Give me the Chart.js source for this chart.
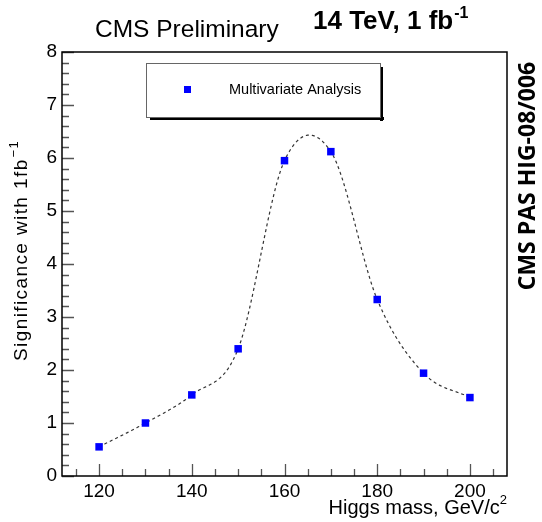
<!DOCTYPE html>
<html>
<head>
<meta charset="utf-8">
<script src="https://cdn.jsdelivr.net/npm/chart.js@4/dist/chart.umd.min.js"></script>
<style>
html,body{margin:0;padding:0;background:#fff;}
#wrap{width:542px;height:522px;position:relative;}
</style>
</head>
<body>
<div id="wrap"><canvas id="c" width="542" height="522"></canvas></div>
<script>
// ---- data ----
const masses = [120, 130, 140, 150, 160, 170, 180, 190, 200];
const significance = [0.55, 1.00, 1.53, 2.40, 5.95, 6.12, 3.33, 1.94, 1.48];
const xTickValues = [120, 140, 160, 180, 200];
const yTickValues = [0, 1, 2, 3, 4, 5, 6, 7, 8];
const seriesLabel = "Multivariate Analysis";
const titleLeft = "CMS Preliminary";
const titleRight = "14 TeV, 1 fb";
const titleRightSup = "-1";
const sideLabel = "CMS PAS HIG-08/006";
const xAxisTitle = "Higgs mass, GeV/c";
const xAxisTitleSup = "2";
const yAxisTitle = "Significance with 1fb";
const yAxisTitleSup = "\u22121";

const FONT = '"Liberation Sans", Arial, Helvetica, sans-serif';

// Catmull-Rom style Hermite curve through the data points
function smoothCurve(xs, ys) {
  const n = xs.length;
  const m = [];
  for (let i = 0; i < n; i++) {
    if (i === 0) m.push((ys[1] - ys[0]) / (xs[1] - xs[0]));
    else if (i === n - 1) m.push((ys[n - 1] - ys[n - 2]) / (xs[n - 1] - xs[n - 2]));
    else m.push((ys[i + 1] - ys[i - 1]) / (xs[i + 1] - xs[i - 1]));
  }
  return function (x) {
    let i = 0;
    while (i < n - 2 && x > xs[i + 1]) i++;
    const h = xs[i + 1] - xs[i];
    const t = (x - xs[i]) / h;
    const t2 = t * t, t3 = t2 * t;
    const h00 = 2 * t3 - 3 * t2 + 1, h10 = t3 - 2 * t2 + t;
    const h01 = -2 * t3 + 3 * t2, h11 = t3 - t2;
    return h00 * ys[i] + h10 * h * m[i] + h01 * ys[i + 1] + h11 * h * m[i + 1];
  };
}

const curvePlugin = {
  id: 'curve',
  beforeDatasetsDraw(chart) {
    const ctx = chart.ctx, xs = chart.scales.x, ys = chart.scales.y;
    const f = smoothCurve(masses, significance);
    ctx.save();
    ctx.beginPath();
    const x0 = masses[0], x1 = masses[masses.length - 1];
    for (let k = 0; k <= 400; k++) {
      const xv = x0 + (x1 - x0) * k / 400;
      const px = xs.getPixelForValue(xv), py = ys.getPixelForValue(f(xv));
      if (k === 0) ctx.moveTo(px, py); else ctx.lineTo(px, py);
    }
    ctx.setLineDash([3, 3]);
    ctx.lineWidth = 1.2;
    ctx.strokeStyle = '#333';
    ctx.stroke();
    ctx.restore();
  }
};

const framePlugin = {
  id: 'frame',
  afterDraw(chart) {
    const ctx = chart.ctx, a = chart.chartArea;
    const xs = chart.scales.x, ys = chart.scales.y;
    ctx.save();
    // ticks inside
    ctx.strokeStyle = '#555';
    ctx.lineWidth = 1.3;
    ctx.beginPath();
    for (let v = 115; v <= xs.max; v += 5) {
      const px = Math.round(xs.getPixelForValue(v)) + 0.5;
      const len = (v % 20 === 0) ? 12 : 7;
      ctx.moveTo(px, a.bottom);
      ctx.lineTo(px, a.bottom - len);
    }
    for (let k = 0; k <= 40; k++) {
      const v = k * 0.2;
      const py = Math.round(ys.getPixelForValue(v)) + 0.5;
      const len = (k % 5 === 0) ? 12 : 7;
      ctx.moveTo(a.left, py);
      ctx.lineTo(a.left + len, py);
    }
    ctx.stroke();
    // frame
    ctx.strokeStyle = '#000';
    ctx.lineWidth = 1.5;
    ctx.strokeRect(a.left, a.top, a.right - a.left, a.bottom - a.top);

    // legend box
    const lx = 146, ly = 63, lw = 234, lh = 54;
    ctx.fillStyle = '#000';
    ctx.fillRect(lx + 4, ly + lh, lw, 3);
    ctx.fillRect(lx + lw, ly + 4, 3, lh);
    ctx.fillStyle = '#fff';
    ctx.fillRect(lx, ly, lw, lh);
    ctx.strokeStyle = '#666';
    ctx.lineWidth = 1;
    ctx.strokeRect(lx + 0.5, ly + 0.5, lw, lh);
    const ds = chart.data.datasets[0];
    ctx.fillStyle = ds.backgroundColor;
    ctx.fillRect(184, 86, 7, 7);
    ctx.fillStyle = '#000';
    ctx.font = '14.5px ' + FONT;
    ctx.textBaseline = 'middle';
    ctx.textAlign = 'left';
    ctx.fillText(ds.label, 229, 90);

    // titles
    ctx.font = '24.5px ' + FONT;
    ctx.textBaseline = 'alphabetic';
    ctx.fillText(titleLeft, 95, 37);
    ctx.font = 'bold 26px ' + FONT;
    ctx.fillText(titleRight, 313, 29);
    const w1 = ctx.measureText(titleRight).width;
    ctx.font = 'bold 16px ' + FONT;
    ctx.fillText(titleRightSup, 313 + w1 + 1, 18);

    // x axis title
    ctx.textAlign = 'right';
    ctx.font = '13px ' + FONT;
    const ws = ctx.measureText(xAxisTitleSup).width;
    ctx.fillText(xAxisTitleSup, 507, 504);
    ctx.font = '20px ' + FONT;
    ctx.fillText(xAxisTitle, 507 - ws, 514);

    // y axis title
    ctx.save();
    ctx.translate(27, 361);
    ctx.rotate(-Math.PI / 2);
    ctx.textAlign = 'left';
    ctx.font = '19px ' + FONT;
    if ('letterSpacing' in ctx) ctx.letterSpacing = '1.4px';
    ctx.fillText(yAxisTitle, 0, 0);
    const wy = ctx.measureText(yAxisTitle).width;
    ctx.font = '13px ' + FONT;
    ctx.fillText(yAxisTitleSup, wy + 1, -9);
    if ('letterSpacing' in ctx) ctx.letterSpacing = '0px';
    ctx.restore();

    // side label
    ctx.save();
    ctx.translate(528, 176);
    ctx.rotate(-Math.PI / 2);
    ctx.textAlign = 'center';
    ctx.textBaseline = 'middle';
    ctx.font = 'bold 20px "Open Sans", ' + FONT;
    const sw = ctx.measureText(sideLabel).width;
    const fs = 20 * 228 / sw;
    ctx.font = 'bold ' + fs.toFixed(1) + 'px "Open Sans", ' + FONT;
    ctx.fillText(sideLabel, 0, 0);
    ctx.restore();
    ctx.restore();
  }
};

new Chart(document.getElementById('c'), {
  type: 'scatter',
  data: {
    datasets: [{
      label: seriesLabel,
      data: masses.map((m, i) => ({ x: m, y: significance[i] })),
      pointStyle: 'rect',
      pointRadius: 5.3,
      pointHoverRadius: 5.3,
      backgroundColor: '#0000ff',
      borderColor: '#0000ff',
      borderWidth: 0,
      showLine: false
    }]
  },
  options: {
    responsive: false,
    animation: false,
    events: [],
    layout: { padding: { left: 0, top: 52, right: 35, bottom: 0 } },
    plugins: { legend: { display: false }, tooltip: { enabled: false } },
    scales: {
      x: {
        type: 'linear',
        min: 112, max: 208,
        afterBuildTicks: s => { s.ticks = xTickValues.map(v => ({ value: v })); },
        afterFit: s => { s.height = 46; },
        grid: { display: false, drawTicks: false },
        border: { display: false },
        ticks: { color: '#000', font: { family: FONT, size: 19 }, padding: 4, maxRotation: 0 }
      },
      y: {
        type: 'linear',
        min: 0, max: 8,
        afterBuildTicks: s => { s.ticks = yTickValues.map(v => ({ value: v })); },
        afterFit: s => { s.width = 62; },
        grid: { display: false, drawTicks: false },
        border: { display: false },
        ticks: { color: '#000', font: { family: FONT, size: 19 }, padding: 5 }
      }
    }
  },
  plugins: [curvePlugin, framePlugin]
});
</script>
</body>
</html>
